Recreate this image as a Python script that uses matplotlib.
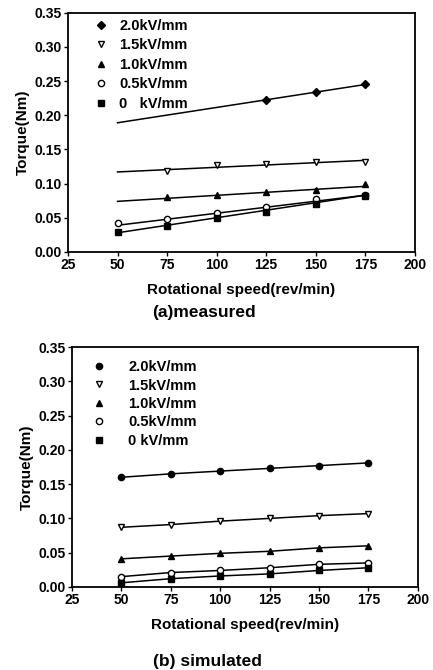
import numpy as np
import matplotlib.pyplot as plt

plt.rcParams['font.family'] = ['Liberation Sans', 'DejaVu Sans']
plt.rcParams['font.weight'] = 'bold'

labels_a = ["2.0kV/mm", "1.5kV/mm", "1.0kV/mm", "0.5kV/mm", "0   kV/mm"]
labels_b = ["2.0kV/mm", "1.5kV/mm", "1.0kV/mm", "0.5kV/mm", "0 kV/mm"]
markers_a = ["D", "v", "^", "o", "s"]
markers_b = ["o", "v", "^", "o", "s"]
filled = [True, False, True, False, True]

# (a) measured: marker points
meas_x = [
    [125, 150, 175],
    [75, 100, 125, 150, 175],
    [75, 100, 125, 150, 175],
    [50, 75, 100, 125, 150, 175],
    [50, 75, 100, 125, 150, 175],
]
meas_y = [
    [0.223, 0.234, 0.245],
    [0.118, 0.127, 0.128, 0.131, 0.132],
    [0.080, 0.083, 0.087, 0.091, 0.099],
    [0.043, 0.048, 0.057, 0.066, 0.077, 0.084],
    [0.029, 0.038, 0.049, 0.059, 0.070, 0.082],
]
# (a) fitted lines, values at 50 and 175 rev/min
fit_x = [50, 175]
fit_y = [
    [0.189, 0.245],
    [0.117, 0.134],
    [0.074, 0.096],
    [0.039, 0.083],
    [0.028, 0.083],
]

# (b) simulated
sim_x = [50, 75, 100, 125, 150, 175]
sim_y = [
    [0.160, 0.165, 0.169, 0.173, 0.177, 0.181],
    [0.087, 0.091, 0.096, 0.100, 0.104, 0.107],
    [0.041, 0.045, 0.049, 0.052, 0.057, 0.060],
    [0.015, 0.021, 0.024, 0.028, 0.033, 0.035],
    [0.006, 0.012, 0.016, 0.019, 0.024, 0.028],
]

fig = plt.figure(figsize=(4.33, 6.70), dpi=100)
ax1 = fig.add_axes([0.157, 0.624, 0.801, 0.357])
ax2 = fig.add_axes([0.166, 0.124, 0.799, 0.358])


def style_axes(ax):
    ax.set_xlim(25, 200)
    ax.set_ylim(0, 0.35)
    ax.set_xticks(np.arange(25, 201, 25))
    ax.set_yticks(np.arange(0, 0.351, 0.05))
    ax.yaxis.set_major_formatter(plt.FormatStrFormatter('%.2f'))
    ax.tick_params(labelsize=10, length=3, width=1, pad=1.5)
    for s in ax.spines.values():
        s.set_linewidth(1.3)
    ax.set_xlabel("Rotational speed(rev/min)", fontsize=11, fontweight='bold',
                  labelpad=8)
    ax.set_ylabel("Torque(Nm)", fontsize=11, fontweight='bold', labelpad=3)


handles = []
for i in range(5):
    ax1.plot(fit_x, fit_y[i], color='black', lw=1.1)
    h, = ax1.plot(meas_x[i], meas_y[i], ls='none', marker=markers_a[i], ms=4.5,
                  mfc='black' if filled[i] else 'white', mec='black', mew=1)
    handles.append(h)
style_axes(ax1)
ax1.legend(handles, labels_a, loc='upper left', bbox_to_anchor=(0.035, 1.03),
           frameon=False, fontsize=10.5, handlelength=1.0, handletextpad=0.8,
           labelspacing=0.38)
fig.text(0.47, 0.533, "(a)measured", ha='center', va='center', fontsize=12.5,
         fontweight='bold')

handles = []
for i in range(5):
    h, = ax2.plot(sim_x, sim_y[i], color='black', lw=1.1, marker=markers_b[i], ms=4.5,
                  mfc='black' if filled[i] else 'white', mec='black', mew=1)
    handles.append(h)
style_axes(ax2)
ax2.legend(handles, labels_b, loc='upper left', bbox_to_anchor=(0.04, 1.0),
           frameon=False, fontsize=10.5, handlelength=0, handletextpad=2.0,
           labelspacing=0.3)
fig.text(0.48, 0.013, "(b) simulated", ha='center', va='center', fontsize=12.5,
         fontweight='bold')

fig.savefig("out.png", dpi=100)
